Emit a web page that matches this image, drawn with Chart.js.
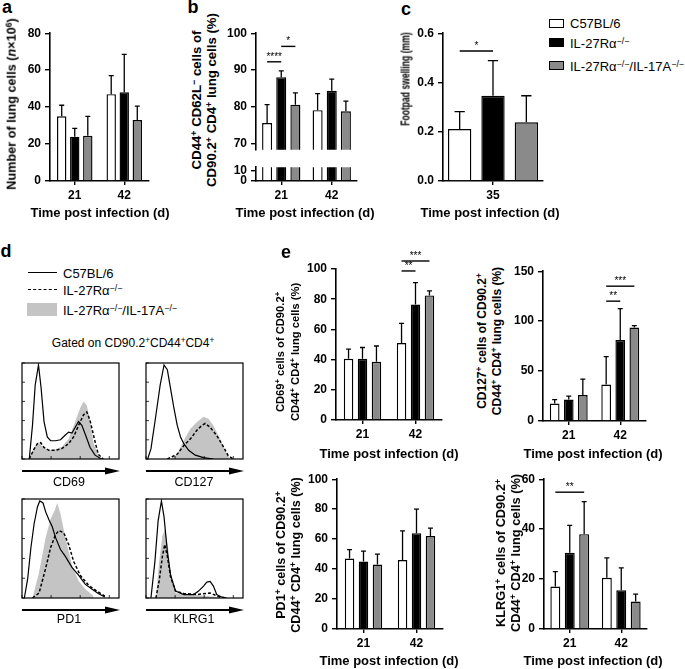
<!DOCTYPE html>
<html><head><meta charset="utf-8">
<script src="https://cdn.jsdelivr.net/npm/chart.js@4"></script>
<style>
html,body{margin:0;padding:0;background:#fff;}
body{width:685px;height:669px;position:relative;overflow:hidden;font-family:"Liberation Sans",Arial,sans-serif;color:#000;}
canvas{position:absolute;}
.t{position:absolute;white-space:nowrap;transform:translate(-50%,-50%);line-height:1;}
.r{transform:translate(-50%,-50%) rotate(-90deg);text-align:center;}
.l{position:absolute;white-space:nowrap;transform:translateY(-50%);line-height:1;font-size:13px;}
.b{font-weight:bold;font-size:13px;}
.y{font-weight:bold;font-size:12.6px;}
.L{font-weight:bold;font-size:18px;}
sup{font-size:0.68em;vertical-align:0;position:relative;top:-0.5em;line-height:0;}
.sw{position:absolute;box-sizing:border-box;}
</style>
</head><body>
<script>
// ---------- DATA ----------
const DAYS = ['21', '42'];
const DAY_C = ['35'];
const GROUPS = ['C57BL/6', 'IL-27R\u03b1\u2212/\u2212', 'IL-27R\u03b1\u2212/\u2212/IL-17A\u2212/\u2212'];

// a: number of lung cells (x10^6)
const LUNG_WT = [35, 47], LUNG_KO = [24, 48], LUNG_DKO = [24.5, 33];
const LUNG_WT_SD = [6, 10], LUNG_KO_SD = [4.5, 20.5], LUNG_DKO_SD = [10.5, 7.5];

// b: CD44+ CD62L- (%)
const ACT_WT = [75.5, 79], ACT_KO = [88, 84.3], ACT_DKO = [80.5, 78.7];
const ACT_WT_SD = [5, 4.5], ACT_KO_SD = [1.7, 3.2], ACT_DKO_SD = [3.2, 2.8];
const ACT_SIG = [[0, 0, 1, 92.2, '****'], [0, 1, 2, 96.4, '*']];

// c: footpad swelling (mm)
const FOOT_WT = [0.211], FOOT_KO = [0.346], FOOT_DKO = [0.238];
const FOOT_WT_SD = [0.071], FOOT_KO_SD = [0.143], FOOT_DKO_SD = [0.108];
const FOOT_SIG = [[0, 0, 1, 0.528, '*']];

// e: CD69+
const CD69_WT = [40.5, 51], CD69_KO = [40.5, 76.5], CD69_DKO = [38.5, 82.5];
const CD69_WT_SD = [6.5, 13], CD69_KO_SD = [7.5, 14.5], CD69_DKO_SD = [10.5, 3];
const CD69_SIG = [[1, 0, 1, 98.7, '**'], [1, 0, 2, 105.3, '***']];
// e: CD127+
const CD127_WT = [17.5, 36.5], CD127_KO = [21.5, 81], CD127_DKO = [26, 93.5];
const CD127_WT_SD = [4, 28], CD127_KO_SD = [3.5, 31.5], CD127_DKO_SD = [16, 2];
const CD127_SIG = [[1, 0, 1, 120, '**'], [1, 0, 2, 135, '***']];
// e: PD1+
const PD1_WT = [47, 46], PD1_KO = [45, 64], PD1_DKO = [43, 62];
const PD1_WT_SD = [6, 19.5], PD1_KO_SD = [7, 16], PD1_DKO_SD = [7, 5.3];
// e: KLRG1+
const KLRG1_WT = [17, 20.5], KLRG1_KO = [30.5, 15.5], KLRG1_DKO = [38, 11];
const KLRG1_WT_SD = [6, 8], KLRG1_KO_SD = [11, 9], KLRG1_DKO_SD = [13, 3];
const KLRG1_SIG = [[0, 0, 2, 54.8, '**']];

// d: histograms [fluorescence position %, relative count %]
const H_CD69_WT = [[7.5,0],[10.8,35],[13.6,77],[17,98],[19.7,74],[22.7,39],[26.1,23],[29.5,19],[34.6,19],[39.7,20],[44.7,25],[48.1,28],[51.5,27],[54.9,33],[58.3,39],[61.7,35],[65.1,26],[70.2,12],[75.3,4],[82,0]];
const H_CD69_KO = [[7.5,0],[12.5,10.5],[15.9,16],[19.3,17],[22.7,12],[27.8,9],[34.6,9],[41.4,11],[48.1,16],[53.2,23],[58.3,35],[63.4,46],[66.8,49],[70.2,40],[74.6,21],[78.6,5],[83.7,0]];
const H_CD69_DKO = [[6.8,0],[12.5,12],[17,17.5],[21,13],[27.8,9],[34.6,10],[41.4,13],[48.1,21],[54.9,39],[60,53],[63.4,60],[66.8,56],[70.2,40],[73.6,17.5],[78.6,3.5],[82,0]];
const H_CD127_WT = [[1.7,0],[5.1,10.5],[10.2,45.6],[14.6,77],[18.6,98],[22,93],[24.7,77],[28.8,53],[32.2,35],[35.6,23],[39,16],[44,9],[50.8,4],[59.3,1.4],[69.5,0]];
const H_CD127_KO = [[22,0],[32.2,5],[39,14],[45.8,21],[52.5,30],[57.6,35],[61,37],[66.1,33],[72.9,24.5],[79.7,13],[84.7,3.5],[89.8,0]];
const H_CD127_DKO = [[25.4,0],[32.2,5],[39,19.6],[45.8,31.6],[52.5,38.6],[59.3,43.9],[64.4,42],[69.5,35],[76.3,21],[81.4,9],[86.4,0]];
const H_PD1_WT = [[2.4,0],[5.8,19],[9.2,51],[12.5,75],[15.9,92],[18.3,98],[21.7,96],[24.4,87],[27.8,79],[31.2,72],[34.6,61],[39.7,49],[44.7,42],[51.5,31],[58.3,23],[65.1,14],[71.9,9],[78.6,4.5],[85.4,1]];
const H_PD1_KO = [[10.8,0],[17.6,5],[24.4,30],[29.5,51],[34.6,64],[38,68],[43,66],[48.1,54],[53.2,37],[60,23],[68.5,13],[77,7],[85.4,2]];
const H_PD1_DKO = [[10.8,0],[17.6,26],[24.4,61],[29.5,80],[33.9,89],[36.3,96],[39.7,85],[44.7,61],[51.5,33],[58.3,17.4],[65.1,9],[73.6,2]];
const H_KLRG1_WT = [[5.1,0],[9.2,37],[12.5,78],[15.9,98],[18.6,82],[22,47],[25.4,23],[30.5,7],[39,3.5],[49.2,3.5],[54.2,7],[59.3,12],[62.7,16],[66.1,16.7],[69.5,12],[72.9,3.5],[78,1],[83.1,0]];
const H_KLRG1_KO = [[10.2,0],[13.6,17.4],[16.9,42],[19.3,54],[22,42],[25.4,21],[30.5,7],[39,4.5],[52.5,3.5],[66.1,5],[76.3,1],[83.1,0]];
const H_KLRG1_DKO = [[10.2,0],[13.6,37],[16.9,63],[19.7,70],[22.7,52],[25.4,26],[30.5,5],[39,3.5],[52.5,3],[72.9,1],[79.7,0]];

// ---------- STYLE ----------
const FILLS = ['#ffffff', '#000000', '#8a8a8a'];
const HIST_FILL = '#c4c4c4';
Chart.defaults.font.family = '"Liberation Sans", Arial, sans-serif';
Chart.defaults.color = '#000';

function mkCanvas(left, top, w, h) {
  const c = document.createElement('canvas');
  c.style.left = left + 'px'; c.style.top = top + 'px';
  c.style.width = w + 'px'; c.style.height = h + 'px';
  c.width = w; c.height = h;
  document.body.appendChild(c);
  return c;
}

const errPlugin = {
  id: 'errbars',
  afterDatasetsDraw(chart, args, opts) {
    const ctx = chart.ctx, ys = chart.scales.y;
    ctx.save();
    ctx.strokeStyle = '#000'; ctx.lineWidth = 1.3;
    (opts.errs || []).forEach((sd, di) => {
      const ds = chart.data.datasets[di];
      chart.getDatasetMeta(di).data.forEach((bar, i) => {
        const yTop = ys.getPixelForValue(ds.data[i] + sd[i]);
        const hw = Math.max(2.5, bar.width * 0.22);
        ctx.beginPath();
        ctx.moveTo(bar.x, bar.y); ctx.lineTo(bar.x, yTop);
        ctx.moveTo(bar.x - hw, yTop); ctx.lineTo(bar.x + hw, yTop);
        ctx.stroke();
      });
    });
    ctx.lineWidth = 1.4; ctx.fillStyle = '#000';
    ctx.font = '10px "Liberation Sans", Arial, sans-serif';
    ctx.textAlign = 'center'; ctx.textBaseline = 'alphabetic';
    (opts.sigs || []).forEach(([cat, a, b, v, txt]) => {
      const x1 = chart.getDatasetMeta(a).data[cat].x;
      const x2 = chart.getDatasetMeta(b).data[cat].x;
      const y = ys.getPixelForValue(v);
      ctx.beginPath(); ctx.moveTo(x1, y); ctx.lineTo(x2, y); ctx.stroke();
      ctx.fillText(txt, (x1 + x2) / 2, y - 2);
    });
    ctx.restore();
  }
};

function barChart(P) {
  const xh = P.showX ? P.xh : 0;
  const left = P.l - P.yw, top = P.t - P.padT;
  const w = P.r + P.padR - left;
  const h = P.b + (P.showX ? P.xh : P.padB) - top;
  const cv = mkCanvas(left, top, w, h);
  const font = {size: 12, weight: 'bold'};
  new Chart(cv, {
    type: 'bar',
    data: {
      labels: P.labels,
      datasets: P.series.map((d, i) => ({
        label: GROUPS[i], data: d, backgroundColor: FILLS[i], borderColor: '#000',
        borderWidth: 1.4, borderSkipped: 'start',
        categoryPercentage: P.cat, barPercentage: P.bar,
        clip: P.clip === undefined ? false : P.clip
      }))
    },
    options: {
      responsive: false, animation: false, devicePixelRatio: 1,
      layout: {padding: {top: P.padT, right: P.padR, left: 0, bottom: P.showX ? 0 : P.padB}},
      plugins: {legend: {display: false}, tooltip: {enabled: false},
        errbars: {errs: P.errs, sigs: P.sigs}},
      scales: {
        x: {
          display: P.showX, offset: true,
          grid: {display: true, offset: false, drawOnChartArea: false, drawTicks: true, tickLength: 4, color: '#000', lineWidth: 1.4},
          border: {display: true, color: '#000', width: 1.6},
          ticks: {padding: 3, color: '#000', font: font, maxRotation: 0, autoSkip: false},
          afterFit: s => { s.height = xh; }
        },
        y: {
          min: P.min, max: P.max,
          grid: {drawOnChartArea: false, drawTicks: true, tickLength: 5, color: '#000', lineWidth: 1.4},
          border: {display: true, color: '#000', width: 1.6},
          ticks: {padding: 4, color: '#000', font: font, autoSkip: false, callback: P.fmt || (v => v)},
          afterFit: s => { s.width = P.yw; },
          afterBuildTicks: s => { s.ticks = P.ticks.map(v => ({value: v})); }
        }
      }
    },
    plugins: [errPlugin]
  });
}

const framePlugin = {
  id: 'frame',
  afterDraw(chart) {
    const ctx = chart.ctx, a = chart.chartArea;
    ctx.save();
    ctx.strokeStyle = '#000'; ctx.lineWidth = 1.2;
    ctx.strokeRect(a.left, a.top, a.right - a.left, a.bottom - a.top);
    ctx.lineWidth = 0.8;
    chart.scales.y.ticks.forEach(t => {
      const y = chart.scales.y.getPixelForValue(t.value);
      ctx.beginPath(); ctx.moveTo(a.left, y); ctx.lineTo(a.left + 3, y); ctx.stroke();
    });
    chart.scales.x.ticks.forEach(t => {
      const x = chart.scales.x.getPixelForValue(t.value);
      ctx.beginPath(); ctx.moveTo(x, a.bottom); ctx.lineTo(x, a.bottom - 3); ctx.stroke();
    });
    // arrow
    const y = a.bottom + 12;
    ctx.lineWidth = 2;
    ctx.beginPath(); ctx.moveTo(a.left, y); ctx.lineTo(a.right - 10, y); ctx.stroke();
    ctx.fillStyle = '#000';
    ctx.beginPath(); ctx.moveTo(a.right - 14, y - 3.5); ctx.lineTo(a.right + 1, y); ctx.lineTo(a.right - 14, y + 3.5); ctx.closePath(); ctx.fill();
    ctx.restore();
  }
};

function histChart(P) {
  const padL = 2, padR = 4, padT = 3, padB = 20;
  const cv = mkCanvas(P.l - padL, P.t - padT, P.r - P.l + padL + padR, P.b - P.t + padT + padB);
  const xy = arr => arr.map(p => ({x: p[0], y: p[1]}));
  new Chart(cv, {
    type: 'line',
    data: {datasets: [
      {label: GROUPS[2], data: xy(P.dko), fill: 'origin', backgroundColor: HIST_FILL, borderWidth: 0, pointRadius: 0, tension: 0, order: 3},
      {label: GROUPS[1], data: xy(P.ko), fill: false, borderColor: '#000', borderWidth: 1.5, borderDash: [3, 2], pointRadius: 0, tension: 0, order: 2},
      {label: GROUPS[0], data: xy(P.wt), fill: false, borderColor: '#000', borderWidth: 1.2, pointRadius: 0, tension: 0, order: 1}
    ]},
    options: {
      responsive: false, animation: false, devicePixelRatio: 1,
      layout: {padding: {left: padL, right: padR, top: padT, bottom: padB}},
      plugins: {legend: {display: false}, tooltip: {enabled: false}},
      scales: {
        x: {type: 'linear', min: 0, max: 100, display: false, ticks: {stepSize: 10}},
        y: {min: 0, max: 100, display: false, ticks: {stepSize: 20}}
      }
    },
    plugins: [framePlugin]
  });
}

// ---------- CHARTS ----------
barChart({l: 50, r: 149, t: 30, b: 181, yw: 36, padT: 8, padR: 4, xh: 26, showX: true,
  labels: DAYS, series: [LUNG_WT, LUNG_KO, LUNG_DKO], errs: [LUNG_WT_SD, LUNG_KO_SD, LUNG_DKO_SD],
  min: 0, max: 80, ticks: [0, 20, 40, 60, 80], cat: 0.79, bar: 0.72});

barChart({l: 256, r: 357, t: 30, b: 153, yw: 36, padT: 8, padR: 4, padB: 8, showX: false,
  labels: DAYS, series: [ACT_WT, ACT_KO, ACT_DKO], errs: [ACT_WT_SD, ACT_KO_SD, ACT_DKO_SD], sigs: ACT_SIG,
  min: 68.2, max: 100, ticks: [70, 80, 90, 100], cat: 0.84, bar: 0.71, clip: 0});
barChart({l: 256, r: 357, t: 164, b: 181, yw: 36, padT: 8, padR: 4, xh: 26, showX: true,
  labels: DAYS, series: [ACT_WT, ACT_KO, ACT_DKO], errs: [],
  min: 0, max: 13, ticks: [0, 10], cat: 0.84, bar: 0.71, clip: 0});

barChart({l: 443, r: 543, t: 30, b: 181, yw: 36, padT: 8, padR: 4, xh: 26, showX: true,
  labels: DAY_C, series: [FOOT_WT, FOOT_KO, FOOT_DKO], errs: [FOOT_WT_SD, FOOT_KO_SD, FOOT_DKO_SD], sigs: FOOT_SIG,
  min: 0, max: 0.6, ticks: [0, 0.2, 0.4, 0.6], fmt: v => v.toFixed(1), cat: 1.0, bar: 0.70});

barChart({l: 336, r: 442, t: 269, b: 420, yw: 36, padT: 22, padR: 4, xh: 26, showX: true,
  labels: DAYS, series: [CD69_WT, CD69_KO, CD69_DKO], errs: [CD69_WT_SD, CD69_KO_SD, CD69_DKO_SD], sigs: CD69_SIG,
  min: 0, max: 100, ticks: [0, 20, 40, 60, 80, 100], cat: 0.79, bar: 0.68});

barChart({l: 543, r: 646, t: 270, b: 421, yw: 36, padT: 10, padR: 4, xh: 26, showX: true,
  labels: DAYS, series: [CD127_WT, CD127_KO, CD127_DKO], errs: [CD127_WT_SD, CD127_KO_SD, CD127_DKO_SD], sigs: CD127_SIG,
  min: 0, max: 150, ticks: [0, 50, 100, 150], cat: 0.82, bar: 0.69});

barChart({l: 337, r: 443, t: 478, b: 629, yw: 36, padT: 10, padR: 4, xh: 26, showX: true,
  labels: DAYS, series: [PD1_WT, PD1_KO, PD1_DKO], errs: [PD1_WT_SD, PD1_KO_SD, PD1_DKO_SD],
  min: 0, max: 100, ticks: [0, 20, 40, 60, 80, 100], cat: 0.79, bar: 0.68});

barChart({l: 544, r: 647, t: 478, b: 629, yw: 36, padT: 10, padR: 4, xh: 26, showX: true,
  labels: DAYS, series: [KLRG1_WT, KLRG1_KO, KLRG1_DKO], errs: [KLRG1_WT_SD, KLRG1_KO_SD, KLRG1_DKO_SD], sigs: KLRG1_SIG,
  min: 0, max: 60, ticks: [0, 20, 40, 60], cat: 0.84, bar: 0.69});

histChart({l: 22, r: 119, t: 363, b: 459, wt: H_CD69_WT, ko: H_CD69_KO, dko: H_CD69_DKO});
histChart({l: 146, r: 243, t: 363, b: 459, wt: H_CD127_WT, ko: H_CD127_KO, dko: H_CD127_DKO});
histChart({l: 22, r: 119, t: 499, b: 598, wt: H_PD1_WT, ko: H_PD1_KO, dko: H_PD1_DKO});
histChart({l: 146, r: 243, t: 499, b: 598, wt: H_KLRG1_WT, ko: H_KLRG1_KO, dko: H_KLRG1_DKO});
</script>

<!-- panel letters -->
<div class="t L" style="left:7px;top:7px">a</div>
<div class="t L" style="left:193px;top:7px">b</div>
<div class="t L" style="left:406px;top:9px">c</div>
<div class="t L" style="left:6px;top:251px">d</div>
<div class="t L" style="left:286px;top:252px">e</div>

<!-- axis titles -->
<div class="t r y" style="left:12px;top:104px;font-size:12.7px">Number of lung cells (<i>n</i>×10<sup>6</sup>)</div>
<div class="t r y" style="left:204px;top:100px;line-height:15px;font-size:13.2px">CD44<sup>+</sup> CD62L<sup>−</sup> cells of<br>CD90.2<sup>+</sup> CD4<sup>+</sup> lung cells (%)</div>
<div class="t y" style="left:405px;top:79px;font-size:13px;transform:translate(-50%,-50%) rotate(-90deg) scaleX(0.66)">Footpad swelling (mm)</div>
<div class="t r y" style="left:288px;top:352px;line-height:15px;font-size:11.2px">CD69<sup>+</sup> cells of CD90.2<sup>+</sup><br>CD44<sup>+</sup> CD4<sup>+</sup> lung cells (%)</div>
<div class="t r y" style="left:490px;top:341px;line-height:15px;font-size:12px">CD127<sup>+</sup> cells of CD90.2<sup>+</sup><br>CD44<sup>+</sup> CD4<sup>+</sup> lung cells (%)</div>
<div class="t r y" style="left:289px;top:555px;line-height:15px;font-size:12.6px">PD1<sup>+</sup> cells of CD90.2<sup>+</sup><br>CD44<sup>+</sup> CD4<sup>+</sup> lung cells (%)</div>
<div class="t r y" style="left:508px;top:553px;line-height:15px;font-size:12.8px">KLRG1<sup>+</sup> cells of CD90.2<sup>+</sup><br>CD44<sup>+</sup> CD4<sup>+</sup> lung cells (%)</div>

<div class="t b" style="left:100px;top:212px">Time post infection (d)</div>
<div class="t b" style="left:305px;top:212px">Time post infection (d)</div>
<div class="t b" style="left:490px;top:212px">Time post infection (d)</div>
<div class="t b" style="left:389px;top:453px">Time post infection (d)</div>
<div class="t b" style="left:593px;top:453px">Time post infection (d)</div>
<div class="t b" style="left:389px;top:660px">Time post infection (d)</div>
<div class="t b" style="left:593px;top:660px">Time post infection (d)</div>

<!-- legend top right -->
<div class="sw" style="left:549px;top:19px;width:15px;height:9px;border:1.4px solid #000;background:#fff"></div>
<div class="sw" style="left:549px;top:38px;width:15px;height:9px;border:1.4px solid #000;background:#000"></div>
<div class="sw" style="left:549px;top:61px;width:15px;height:9px;border:1.4px solid #000;background:#8a8a8a"></div>
<div class="l" style="left:570px;top:23px">C57BL/6</div>
<div class="l" style="left:570px;top:43px">IL-27Rα<sup>−/−</sup></div>
<div class="l" style="left:570px;top:66px">IL-27Rα<sup>−/−</sup>/IL-17A<sup>−/−</sup></div>

<!-- legend d -->
<div class="sw" style="left:28px;top:272px;width:29px;height:0;border-top:1.5px solid #000"></div>
<div class="sw" style="left:28px;top:289px;width:29px;height:0;border-top:1.6px dashed #000"></div>
<div class="sw" style="left:27px;top:303px;width:30px;height:13px;background:#c4c4c4"></div>
<div class="l" style="left:63px;top:273px">C57BL/6</div>
<div class="l" style="left:63px;top:290px">IL-27Rα<sup>−/−</sup></div>
<div class="l" style="left:63px;top:310px">IL-27Rα<sup>−/−</sup>/IL-17A<sup>−/−</sup></div>
<div class="t" style="left:133px;top:343px;font-size:12px">Gated on CD90.2<sup>+</sup>CD44<sup>+</sup>CD4<sup>+</sup></div>

<div class="t" style="left:69px;top:482px;font-size:12.5px">CD69</div>
<div class="t" style="left:194px;top:482px;font-size:12.5px">CD127</div>
<div class="t" style="left:69px;top:619px;font-size:12.5px">PD1</div>
<div class="t" style="left:194px;top:619px;font-size:12.5px">KLRG1</div>
</body></html>
